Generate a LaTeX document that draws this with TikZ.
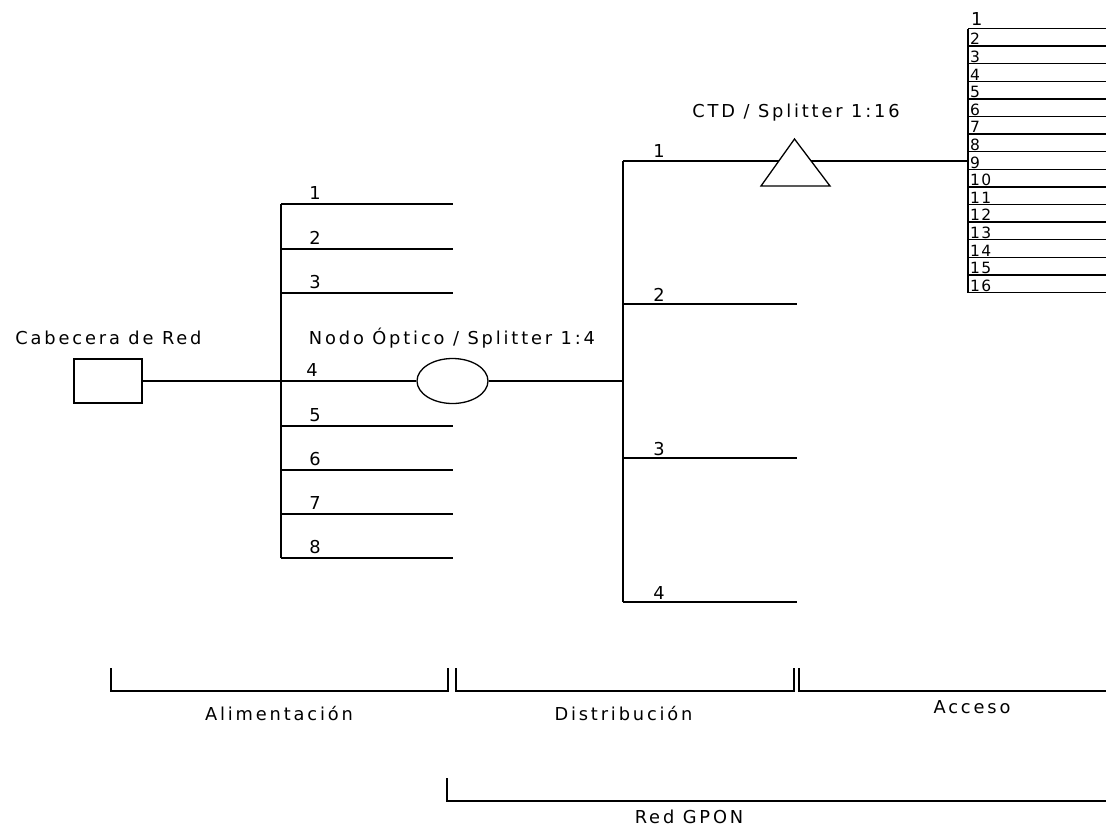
\documentclass[tikz,border=0pt]{standalone}
\usepackage{fontspec}
\newfontfamily\cadfont{DejaVu Sans}[LetterSpace=16]
\newfontfamily\cadsmall{DejaVu Sans}[LetterSpace=8]
\usetikzlibrary{shapes.geometric}
\tikzset{
  lbl/.style={font=\cadfont\fontsize{17.8}{18}\selectfont, inner sep=0pt, anchor=base},
  snum/.style={font=\cadsmall\fontsize{15.5}{15.5}\selectfont, inner sep=0pt, anchor=base west},
  wire/.style={line width=1.3pt, black},
  boxnode/.style={draw, line width=1.3pt, rectangle, inner sep=0pt, minimum width=68pt, minimum height=44pt},
  ellnode/.style={draw, line width=1.3pt, ellipse, inner sep=0pt, minimum width=71pt, minimum height=45pt}
}
\begin{document}
\begin{tikzpicture}[x=1pt,y=-1pt]
\useasboundingbox (0,0) rectangle (1106,827);

% Cabecera de Red
\node[boxnode] (head) at (108,381) {};
\node[lbl] (headlbl) at (108.5,344) {Cabecera de Red};

% Feeder (Alimentacion) bus
\coordinate (fTop) at (281,204);
\coordinate (fBot) at (281,558);
\draw[wire] (fTop) -- (fBot);
\foreach \i/\y in {1/204,2/249,3/293,5/426,6/470,7/514,8/558} {
  \coordinate (f\i) at (281,\y);
  \coordinate (fe\i) at (453,\y);
  \draw[wire] (f\i) -- (fe\i);
  \node[lbl] (fl\i) at (315,\y-5) {\i};
}
\node[lbl] (fl4) at (312,376) {4};

% Nodo optico
\node[ellnode] (split4) at (452.5,381) {};
\draw[wire] (head.east) -- (split4.west);
\node[lbl] (split4lbl) at (452,344) {Nodo Óptico / Splitter 1:4};

% Distribution bus
\coordinate (d0) at (623,381);
\draw[wire] (split4.east) -- (d0);
\coordinate (dTop) at (623,161);
\coordinate (dBot) at (623,602);
\draw[wire] (dTop) -- (dBot);
\foreach \i/\y in {2/304,3/458,4/602} {
  \coordinate (d\i) at (623,\y);
  \coordinate (de\i) at (797,\y);
  \draw[wire] (d\i) -- (de\i);
  \node[lbl] (dl\i) at (659,\y-3) {\i};
}
\node[lbl] (dl1) at (659,157) {1};

% CTD triangle
\coordinate (tA) at (794.5,139);
\coordinate (tL) at (761,186);
\coordinate (tR) at (830,186);
\draw[wire, line join=miter] (tL) -- (tA) -- (tR) -- cycle;
\coordinate (tLi) at (778.8,161);
\coordinate (tRi) at (811.1,161);
\coordinate (s0) at (968,161);
\draw[wire] (dTop) -- (tLi);
\draw[wire] (tRi) -- (s0);
\node[lbl] (ctdlbl) at (796,117) {CTD / Splitter 1:16};

% 16-way stack
\coordinate (sTop) at (968,28.5);
\coordinate (sBot) at (968,292.5);
\draw[wire] (sTop) -- (sBot);
\foreach \k in {1,...,16} {
  \pgfmathsetmacro{\yy}{28.5+(\k-1)*17.6}
  \coordinate (s\k) at (968,\yy);
  \coordinate (se\k) at (1106,\yy);
  \draw[wire] (s\k) -- (se\k);
}
\node[lbl, anchor=base west] (sl1) at (971,25) {1};
\foreach \k in {2,...,16} {
  \pgfmathsetmacro{\yy}{28.5+(\k-1)*17.6-1.2}
  \node[snum] (sl\k) at (970,\yy) {\k};
}

% Brackets
\coordinate (a1) at (111,668); \coordinate (a2) at (111,691);
\coordinate (a3) at (448,691); \coordinate (a4) at (448,668);
\draw[wire] (a1) -- (a2) -- (a3) -- (a4);
\node[lbl] (alim) at (279,720) {Alimentación};

\coordinate (b1) at (456,668); \coordinate (b2) at (456,691);
\coordinate (b3) at (794,691); \coordinate (b4) at (794,668);
\draw[wire] (b1) -- (b2) -- (b3) -- (b4);
\node[lbl] (dist) at (623.5,720) {Distribución};

\coordinate (c1) at (799,668); \coordinate (c2) at (799,691);
\coordinate (c3) at (1106,691);
\draw[wire] (c1) -- (c2) -- (c3);
\node[lbl] (acc) at (972,713) {Acceso};

\coordinate (g1) at (447,778); \coordinate (g2) at (447,801);
\coordinate (g3) at (1106,801);
\draw[wire] (g1) -- (g2) -- (g3);
\node[lbl] (gpon) at (689,823) {Red GPON};
\end{tikzpicture}
\end{document}
